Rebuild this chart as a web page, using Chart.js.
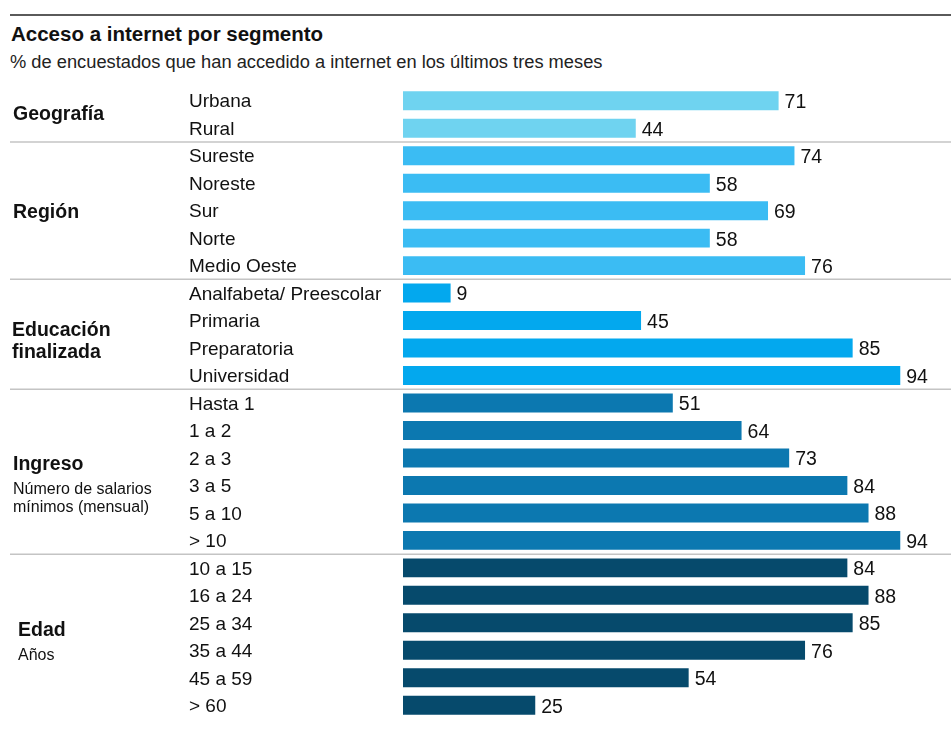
<!DOCTYPE html>
<html lang="es">
<head>
<meta charset="utf-8">
<title>Acceso a internet por segmento</title>
<script src="https://cdn.jsdelivr.net/npm/chart.js@4"></script>
<style>
  html, body { margin: 0; padding: 0; background: #fff; }
  body { width: 951px; height: 731px; position: relative; overflow: hidden;
         font-family: "Liberation Sans", Arial, sans-serif; color: #111; }
  .rule { position: absolute; left: 10px; right: 0; top: 14px; height: 2px; background: #5a5a5a; }
  h1 { position: absolute; left: 11px; top: 22px; margin: 0; font-size: 20.5px; font-weight: bold; }
  .sub { position: absolute; left: 10px; top: 51px; margin: 0; font-size: 18.3px; color: #222; }
  #wrap { position: absolute; left: 0; top: 0; width: 951px; height: 731px; }
</style>
</head>
<body>
<div class="rule"></div>
<h1>Acceso a internet por segmento</h1>
<p class="sub">% de encuestados que han accedido a internet en los últimos tres meses</p>
<div id="wrap"><canvas id="chart" width="951" height="731"></canvas></div>

<script>
// categories, top to bottom
const categories = [
    'Urbana', 'Rural',
    'Sureste', 'Noreste', 'Sur', 'Norte', 'Medio Oeste',
    'Analfabeta/ Preescolar', 'Primaria', 'Preparatoria', 'Universidad',
    'Hasta 1', '1 a 2', '2 a 3', '3 a 5', '5 a 10', '> 10',
    '10 a 15', '16 a 24', '25 a 34', '35 a 44', '45 a 59', '> 60'
];
const values = [
    71, 44,
    74, 58, 69, 58, 76,
    9, 45, 85, 94,
    51, 64, 73, 84, 88, 94,
    84, 88, 85, 76, 54, 25
];

// groups
const groupSizes = [2, 5, 4, 6, 6];
const groupTitles = [['Geografía'], ['Región'], ['Educación', 'finalizada'], ['Ingreso'], ['Edad']];
const groupNotes = [[], [], [], ['Número de salarios', 'mínimos (mensual)'], ['Años']];
const groupColors = ['#6fd3f0', '#3bbcf3', '#03a8ee', '#0c78b0', '#064a6c'];

// per-group label placement (x, offset of first line from group centre)
const GROUP_LAYOUT = [
    { x: 13, dy: 0 },
    { x: 13, dy: 2 },
    { x: 12, dy: -3.5 },
    { x: 13, dy: -7.5 },
    { x: 18, dy: -5.5 }
];

const barColors = [];
groupSizes.forEach((n, g) => { for (let i = 0; i < n; i++) barColors.push(groupColors[g]); });

const FONT = '"Liberation Sans", Arial, sans-serif';

const groupPlugin = {
    id: 'groups',
    afterDraw(chart) {
        const ctx = chart.ctx;
        const y = chart.scales.y;
        let start = 0;
        ctx.save();
        groupSizes.forEach((n, g) => {
            const top = y.getPixelForValue(start);
            const bottom = y.getPixelForValue(start + n - 1);
            const centre = (top + bottom) / 2;
            const lay = GROUP_LAYOUT[g];
            let ty = centre + lay.dy;
            ctx.fillStyle = '#111';
            ctx.textBaseline = 'middle';
            ctx.textAlign = 'left';
            ctx.font = 'bold 19.5px ' + FONT;
            groupTitles[g].forEach(line => { ctx.fillText(line, lay.x, ty); ty += 22; });
            ctx.font = '16px ' + FONT;
            ty += 3;
            groupNotes[g].forEach(line => { ctx.fillText(line, lay.x, ty); ty += 18; });

            // separator below the group
            if (g < groupSizes.length - 1) {
                const sep = (bottom + y.getPixelForValue(start + n)) / 2;
                ctx.strokeStyle = '#c4c4c4';
                ctx.lineWidth = 1.5;
                ctx.beginPath();
                ctx.moveTo(10, sep);
                ctx.lineTo(chart.width, sep);
                ctx.stroke();
            }
            start += n;
        });
        ctx.restore();
    }
};

const valueLabels = {
    id: 'valueLabels',
    afterDatasetsDraw(chart) {
        const ctx = chart.ctx;
        const meta = chart.getDatasetMeta(0);
        ctx.save();
        ctx.font = '19.5px ' + FONT;
        ctx.fillStyle = '#111';
        ctx.textBaseline = 'middle';
        ctx.textAlign = 'left';
        meta.data.forEach((bar, i) => {
            ctx.fillText(String(values[i]), bar.x + 6, bar.y + 2);
        });
        ctx.restore();
    }
};

new Chart(document.getElementById('chart').getContext('2d'), {
    type: 'bar',
    data: {
        labels: categories,
        datasets: [{
            data: values,
            backgroundColor: barColors,
            borderWidth: 0,
            barPercentage: 0.69,
            categoryPercentage: 1
        }]
    },
    options: {
        indexAxis: 'y',
        responsive: false,
        animation: false,
        layout: { padding: { left: 189, right: 19, top: 87, bottom: 12 } },
        plugins: {
            legend: { display: false },
            tooltip: { enabled: false }
        },
        scales: {
            x: {
                display: false,
                min: 0,
                max: 100
            },
            y: {
                afterFit(scale) { scale.width = 214; },
                grid: { display: false },
                border: { display: false },
                ticks: {
                    autoSkip: false,
                    crossAlign: 'far',
                    color: '#111',
                    padding: 0,
                    font: { family: FONT, size: 19 },
                    labelOffset: 1.5
                }
            }
        }
    },
    plugins: [groupPlugin, valueLabels]
});
</script>
</body>
</html>
